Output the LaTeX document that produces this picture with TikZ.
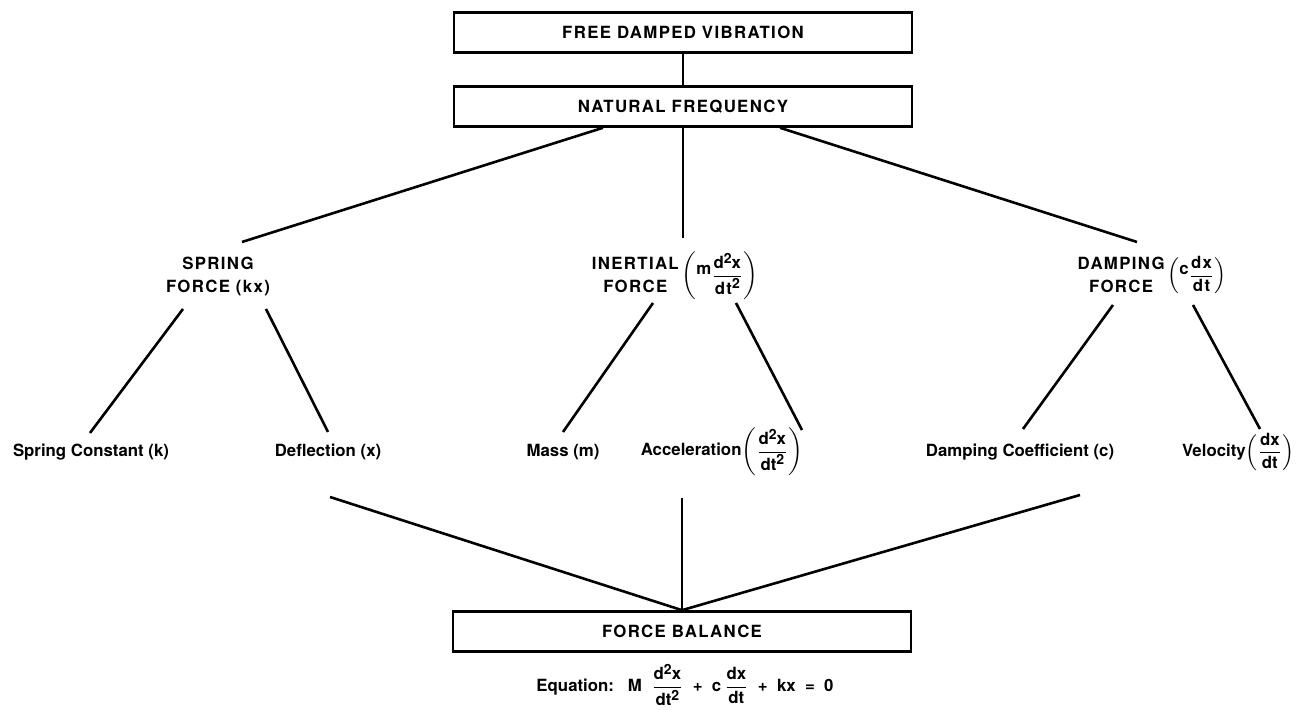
\documentclass[tikz,border=0pt]{standalone}
\usepackage{fontspec}
\setmainfont{TeX Gyre Heros}
\newfontfamily\capsfont[LetterSpace=8]{TeX Gyre Heros}
\usetikzlibrary{arrows}
\newcommand{\sqr}{\raisebox{0.6ex}{\fontsize{7}{7}\selectfont 2}}

\begin{document}
\begin{tikzpicture}[x=0.5pt,y=0.5pt,line width=1.3pt,
		boxnode/.style={draw,minimum width=229pt,minimum height=20pt,inner sep=0pt,font=\capsfont\bfseries\fontsize{8.4}{11.5}\selectfont},
		forcenode/.style={align=center,inner sep=0pt,font=\capsfont\bfseries\fontsize{8.4}{11.5}\selectfont},
		leafnode/.style={inner sep=0pt,font=\bfseries\fontsize{8.4}{10}\selectfont}]
			\useasboundingbox (0,0) rectangle (1297,710);
			\node[boxnode] (fdv) at (683,677.5) {FREE DAMPED VIBRATION};
			\node[boxnode] (nf) at (683,603.5) {NATURAL FREQUENCY};
			\node[forcenode] (sf) at (218,434) {SPRING\\FORCE (kx)};
			\node[forcenode] (inf) at (675,434) {\begin{tabular}{@{}c@{}}INERTIAL\\FORCE\end{tabular}\,$\displaystyle\left(\raisebox{0.6ex}{m}\frac{\mbox{d\sqr x}}{\mbox{dt\sqr}}\right)$};
			\node[forcenode] (dmf) at (1152,434) {\begin{tabular}{@{}c@{}}DAMPING\\FORCE\end{tabular}\,$\displaystyle\left(\raisebox{0.6ex}{c}\frac{\mbox{dx}}{\mbox{dt}}\right)$};
			\node[leafnode] (sk) at (91,258) {Spring Constant (k)};
			\node[leafnode] (dfl) at (328,258) {Deflection (x)};
			\node[leafnode] (ms) at (563,258) {Mass (m)};
			\node[leafnode] (acc) at (722,258) {Acceleration$\displaystyle\left(\frac{\mbox{d\sqr x}}{\mbox{dt\sqr}}\right)$};
			\node[leafnode] (dc) at (1020,258) {Damping Coefficient (c)};
			\node[leafnode] (vel) at (1238,258) {Velocity$\displaystyle\left(\frac{\mbox{dx}}{\mbox{dt}}\right)$};
			\node[boxnode] (fb) at (682,78.5) {FORCE BALANCE};
			\node[leafnode] (eq) at (685,25) {Equation:\ \ \ M\ \ $\displaystyle\frac{\mbox{d\sqr x}}{\mbox{dt\sqr}}$\ \ +\ \ c\,$\displaystyle\frac{\mbox{dx}}{\mbox{dt}}$\ \ +\ \ kx\ \ =\ \ 0};
			\draw (fdv.south) -- (nf.north);
			\draw ([shift={(-80,0)}]nf.south) -- ([shift={(24,34)}]sf.center);
			\draw (nf.south) -- ([shift={(8,38)}]inf.center);
			\draw ([shift={(97,0)}]nf.south) -- ([shift={(-15,34)}]dmf.center);
			\draw ([shift={(-35,-33)}]sf.center) -- ([shift={(-1,19)}]sk.center);
			\draw ([shift={(48,-33)}]sf.center) -- ([shift={(0,20)}]dfl.center);
			\draw ([shift={(-22,-27)}]inf.center) -- ([shift={(0,20)}]ms.center);
			\draw ([shift={(61,-27)}]inf.center) -- ([shift={(80,22)}]acc.center);
			\draw ([shift={(-39,-29)}]dmf.center) -- ([shift={(3,23)}]dc.center);
			\draw ([shift={(41,-29)}]dmf.center) -- ([shift={(22,23)}]vel.center);
			\draw ([shift={(2,-45)}]dfl.center) -- (fb.north);
			\draw ([shift={(-40,-46)}]acc.center) -- (fb.north);
			\draw ([shift={(60,-43)}]dc.center) -- (fb.north);
		\end{tikzpicture}
\end{document}
